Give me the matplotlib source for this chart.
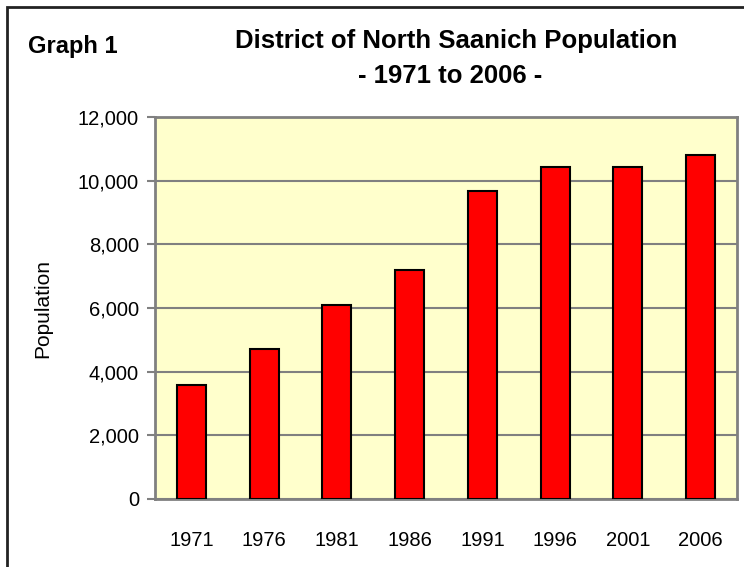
import matplotlib
matplotlib.use("Agg")
import matplotlib.pyplot as plt
from matplotlib.patches import Rectangle
import numpy as np

## Population by census year
years = ["1971", "1976", "1981", "1986", "1991", "1996", "2001", "2006"]
population = [3570, 4700, 6100, 7200, 9680, 10420, 10430, 10800]
yticks = [0, 2000, 4000, 6000, 8000, 10000, 12000]
ytick_labels = ["0", "2,000", "4,000", "6,000", "8,000", "10,000", "12,000"]

plt.rcParams["font.family"] = ["Liberation Sans", "DejaVu Sans"]

fig = plt.figure(figsize=(7.44, 5.67), dpi=100)
ax = fig.add_axes([155 / 744, 68 / 567, 582 / 744, 382 / 567])

# outer frame (cut off at right and bottom like the original)
fig.patches.append(Rectangle((7 / 744, -0.1), 1.2, 1 - 7 / 567 + 0.1,
                             transform=fig.transFigure, fill=False,
                             edgecolor="#222222", linewidth=2))

x = np.arange(len(years))
ax.set_facecolor("#FFFFCC")
ax.bar(x, population, width=0.4, color="#FF0000", edgecolor="black",
       linewidth=1.5, zorder=3)

ax.set_xlim(-0.5, len(years) - 0.5)
ax.set_ylim(0, 12000)
ax.set_yticks(yticks)
ax.set_yticklabels(ytick_labels)
ax.set_xticks(x)
ax.set_xticklabels(years)
ax.yaxis.grid(True, color="#808080", linewidth=1.5, zorder=1)
ax.set_axisbelow(True)

for s in ax.spines.values():
    s.set_color("#808080")
    s.set_linewidth(2)

ax.tick_params(axis="y", length=6, width=1.5, color="#808080", pad=5.5,
               labelsize=14.5)
ax.tick_params(axis="x", length=0, pad=23, labelsize=14.5)

ax.set_ylabel("Population", fontsize=15)
ax.yaxis.set_label_coords(-0.177, 0.5)

fig.text(28 / 744, 1 - 53 / 567, "Graph 1", fontsize=17, fontweight="bold",
         ha="left", va="baseline")
fig.text(456 / 744, 1 - 48 / 567, "District of North Saanich Population",
         fontsize=18.5, fontweight="bold", ha="center", va="baseline")
fig.text(450 / 744, 1 - 83 / 567, "- 1971 to 2006 -", fontsize=18.5,
         fontweight="bold", ha="center", va="baseline")

fig.savefig("out.png", dpi=100)
